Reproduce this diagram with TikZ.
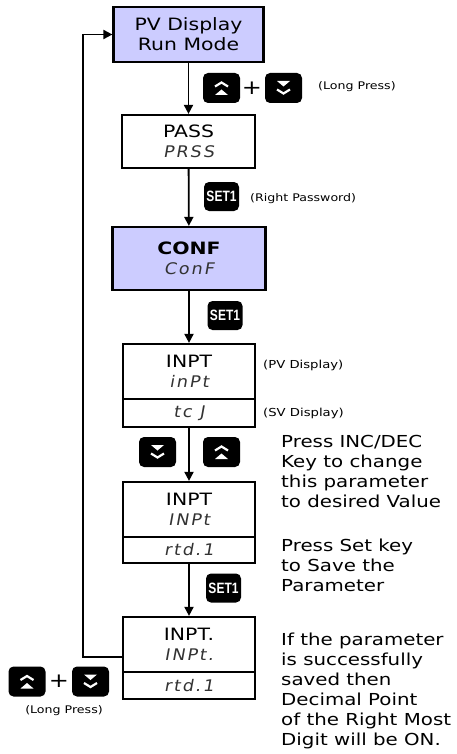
\documentclass[tikz,border=0pt]{standalone}
\usepackage{fontspec}
\setmainfont{DejaVu Sans}[FakeStretch=1.2]
\newfontfamily\segfont{DejaVu Sans}[FakeSlant=0.18,LetterSpace=12,FakeStretch=1.1]
\newfontfamily\keyfont{Liberation Sans}[FakeStretch=0.8]
\usetikzlibrary{arrows.meta}
\definecolor{lav}{HTML}{CCCCFF}
\newcommand\upicon[1]{%
  \draw[white,line width=2.2pt] ([shift={(-6.5,-1.5)}]#1.center) -- ([shift={(0,-5.5)}]#1.center) -- ([shift={(6.5,-1.5)}]#1.center);
  \fill[white] ([shift={(-6.5,7)}]#1.center) -- ([shift={(0,1.5)}]#1.center) -- ([shift={(6.5,7)}]#1.center) -- cycle;}
\newcommand\dnicon[1]{%
  \draw[white,line width=2.2pt] ([shift={(-6.5,1.5)}]#1.center) -- ([shift={(0,5.5)}]#1.center) -- ([shift={(6.5,1.5)}]#1.center);
  \fill[white] ([shift={(-6.5,-7)}]#1.center) -- ([shift={(0,-1.5)}]#1.center) -- ([shift={(6.5,-7)}]#1.center) -- cycle;}
\newcommand\sg[1]{{\segfont\fontsize{16}{20}\selectfont\color{black!80}#1}}
\begin{document}
\begin{tikzpicture}[x=1pt,y=-1pt,
  box/.style={draw,line width=2.2pt,align=center,inner sep=0pt,minimum width=132pt,
    font=\fontsize{17}{20}\selectfont},
  lavbox/.style={box,fill=lav},
  svbox/.style={draw,line width=2.2pt,inner sep=0pt,minimum width=132pt},
  seg/.style={font=\segfont\fontsize{16}{20}\selectfont,text=black!80},
  key/.style={fill=black,rounded corners=5pt,minimum width=37pt,minimum height=30pt,inner sep=0pt},
  setkey/.style={fill=black,rounded corners=5pt,minimum width=35pt,minimum height=29pt,inner sep=0pt,
    text=white,font=\keyfont\bfseries\fontsize{15}{15}\selectfont},
  conn/.style={line width=1.8pt,-{Triangle[length=9pt,width=9pt]}},
  small/.style={anchor=base west,inner sep=0pt,font=\fontsize{10.5}{12}\selectfont},
  note/.style={anchor=base west,inner sep=0pt,align=left,font=\fontsize{16.5}{20}\selectfont},
  plus/.style={inner sep=0pt,font=\fontsize{20}{20}\selectfont}]
\useasboundingbox[fill=white] (0,0) rectangle (457,754);

% main boxes
\node[lavbox,minimum width=150pt,minimum height=55pt] (b1) at (188.5,34.5) {PV Display\\Run Mode};
\node[box,minimum width=133pt,minimum height=53pt] (b2) at (188.5,141.5) {PASS\\\sg{PRSS}};
\node[lavbox,minimum width=153pt,minimum height=63pt] (b3) at (189,258.5) {\bfseries CONF\\\sg{ConF}};
\node[box,minimum height=55pt] (b4) at (189,371.5) {INPT\\\sg{inPt}};
\node[svbox,minimum height=28pt,seg] (b4s) at (189,413) {tc J};
\node[box,minimum height=55pt] (b5) at (189,509.5) {INPT\\\sg{INPt}};
\node[svbox,minimum height=26pt,seg] (b5s) at (189,550) {rtd.1};
\node[box,minimum height=55pt] (b6) at (189,644.5) {INPT.\\\sg{INPt.}};
\node[svbox,minimum height=27pt,seg] (b6s) at (189,685.5) {rtd.1};

% connectors
\draw[conn] (b1) -- (b2);
\draw[conn] (b2) -- (b3);
\draw[conn] (b3) -- (b4);
\draw[conn] (b4s) -- (b5);
\draw[conn] (b5s) -- (b6);
\coordinate (lp) at (83,657);
\draw[conn] (b6.west |- lp) -- (lp) |- (b1.west);

% keys row 1
\node[key] (k1u) at (221.5,88) {};
\upicon{k1u}
\node[plus] (p1) at (252,88) {+};
\node[key] (k1d) at (283.5,88) {};
\dnicon{k1d}
\node[small] (t1) at (318,90) {(Long Press)};

\node[setkey] (k2) at (221.5,196.5) {SET1};
\node[small] (t2) at (250,201) {(Right Password)};

\node[setkey] (k3) at (225,315.5) {SET1};
\node[small,font=\fontsize{11}{12}\selectfont] (t3) at (263,368) {(PV Display)};
\node[small,font=\fontsize{11}{12}\selectfont] (t4) at (263,416) {(SV Display)};

\node[key] (k4d) at (157.5,452) {};
\dnicon{k4d}
\node[key] (k4u) at (221.5,452) {};
\upicon{k4u}

\node[setkey] (k5) at (223.5,588) {SET1};

\node[key] (k6u) at (27,681.5) {};
\upicon{k6u}
\node[plus] (p2) at (59,681.5) {+};
\node[key] (k6d) at (90.5,681.5) {};
\dnicon{k6d}
\node[small,anchor=base] (t5) at (64,713) {(Long Press)};

% notes (anchor at baseline of last line)
\node[note] (n1) at (281,507) {Press INC/DEC\\Key to change\\this parameter\\to desired Value};
\node[note] (n2) at (281,591) {Press Set key\\to Save the\\Parameter};
\node[note] (n3) at (281,745) {If the parameter\\is successfully\\saved then\\Decimal Point\\of the Right Most\\Digit will be ON.};
\end{tikzpicture}
\end{document}
